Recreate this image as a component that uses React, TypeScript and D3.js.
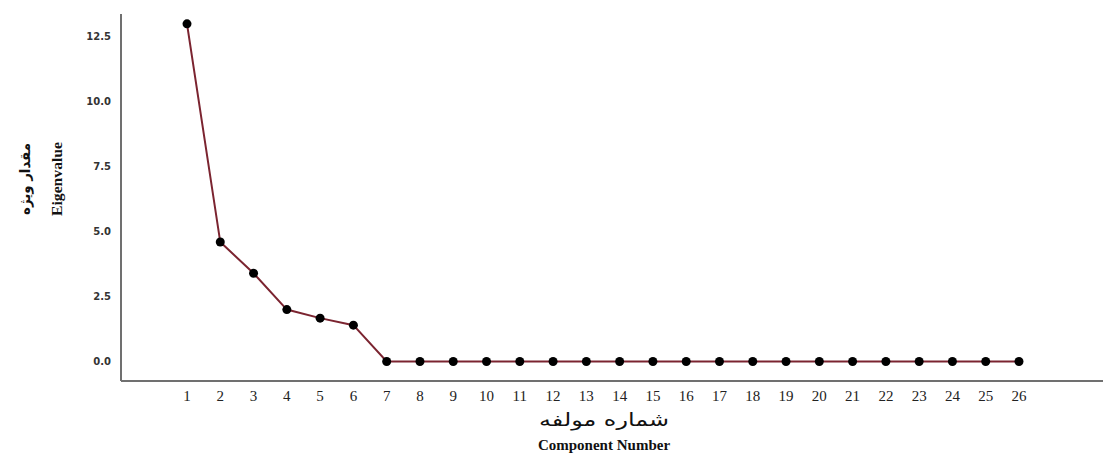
import React from "react";
import * as d3 from "d3";

const components = d3.range(1, 27);
const eigenvalues = [13.0, 4.6, 3.4, 2.0, 1.67, 1.4, 0, 0, 0, 0, 0, 0, 0, 0, 0, 0, 0, 0, 0, 0, 0, 0, 0, 0, 0, 0];
const yTicks = [0, 2.5, 5, 7.5, 10, 12.5];
const xTitleFa = "شماره مولفه";
const xTitleEn = "Component Number";
const yTitleFa = "مقدار ویژه";
const yTitleEn = "Eigenvalue";

const W = 1103;
const H = 460;

export default function App() {
  const x = d3.scaleLinear().domain([1, 26]).range([187, 1019]);
  const y = d3.scaleLinear().domain([-0.75, 13.38]).range([381, 14]);
  const data = components.map((c, i) => ({ c, v: eigenvalues[i] }));
  const line = d3
    .line<{ c: number; v: number }>()
    .x((d) => x(d.c))
    .y((d) => y(d.v));
  const axisX0 = 121;
  const axisY0 = 381;
  const yMid = 179;
  return (
    <svg
      width={W}
      height={H}
      style={{ position: "absolute", left: 0, top: 0, background: "#fff" }}
    >
      {/* axes */}
      <line x1={axisX0} x2={axisX0} y1={14} y2={axisY0} stroke="#707070" strokeWidth={2} />
      <line x1={axisX0} x2={W} y1={axisY0} y2={axisY0} stroke="#707070" strokeWidth={2} />
      {/* y ticks */}
      {yTicks.map((t) => (
        <text
          key={t}
          x={111}
          y={y(t)}
          dy="0.35em"
          textAnchor="end"
          fontFamily="'DejaVu Sans', sans-serif"
          fontWeight="bold"
          fontSize={10}
          fill="#333"
        >
          {t.toFixed(1)}
        </text>
      ))}
      {/* x ticks */}
      {components.map((c) => (
        <text
          key={c}
          x={x(c)}
          y={401}
          textAnchor="middle"
          fontFamily="'Liberation Serif', serif"
          fontSize={15}
          fill="#222"
        >
          {c}
        </text>
      ))}
      {/* line */}
      <path d={line(data) || ""} fill="none" stroke="#7b2430" strokeWidth={2} />
      {data.map((d) => (
        <circle key={d.c} cx={x(d.c)} cy={y(d.v)} r={4.5} fill="#000" />
      ))}
      {/* x titles */}
      <text
        x={604}
        y={426}
        textAnchor="middle"
        direction="rtl"
        fontFamily="'DejaVu Serif', 'DejaVu Sans', serif"
        fontSize={18}
        textLength={130}
        lengthAdjust="spacingAndGlyphs"
        fill="#111"
      >
        {xTitleFa}
      </text>
      <text
        x={604}
        y={450}
        textAnchor="middle"
        fontFamily="'Liberation Serif', serif"
        fontWeight="bold"
        fontSize={15}
        fill="#111"
      >
        {xTitleEn}
      </text>
      {/* y titles */}
      <text
        transform={`translate(30,${yMid}) rotate(-90)`}
        textAnchor="middle"
        direction="rtl"
        fontFamily="'DejaVu Sans', sans-serif"
        fontWeight="bold"
        fontSize={14}
        textLength={72}
        lengthAdjust="spacingAndGlyphs"
        fill="#111"
      >
        {yTitleFa}
      </text>
      <text
        transform={`translate(62,${yMid}) rotate(-90)`}
        textAnchor="middle"
        fontFamily="'Liberation Serif', serif"
        fontWeight="bold"
        fontSize={15}
        textLength={74}
        lengthAdjust="spacingAndGlyphs"
        fill="#111"
      >
        {yTitleEn}
      </text>
    </svg>
  );
}
